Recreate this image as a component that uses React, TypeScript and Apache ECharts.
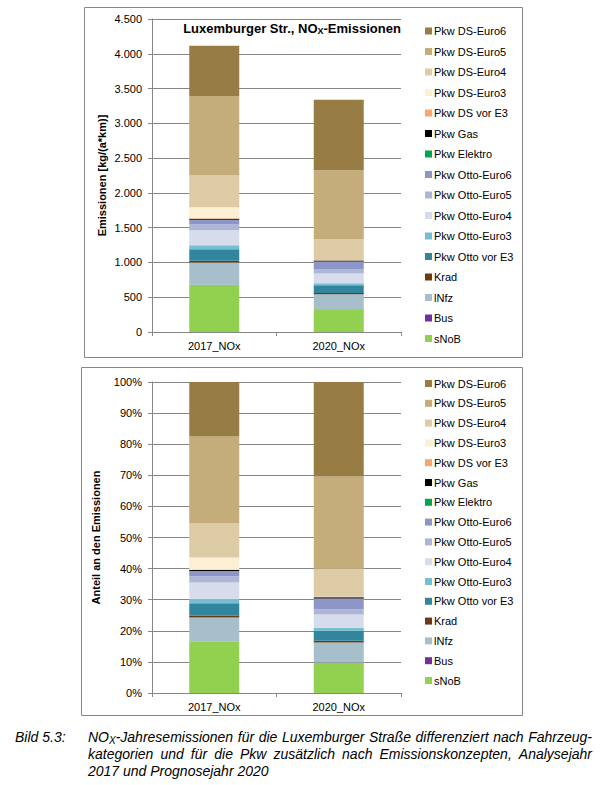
import React, { useEffect, useRef } from "react";
import * as echarts from "echarts";

const categories = ["2017_NOx", "2020_NOx"];

// Emission values [kg/(a*km)] for 2017_NOx, 2020_NOx
const sNoB = [675, 325];
const bus = [3, 2];
const lNfz = [320, 215];
const krad = [25, 20];
const ottoVorE3 = [165, 110];
const ottoEuro3 = [60, 30];
const ottoEuro4 = [215, 140];
const ottoEuro5 = [83, 57];
const ottoEuro6 = [68, 115];
const elektro = [0, 0];
const gas = [14, 15];
const dsVorE3 = [6, 2];
const dsEuro3 = [160, 4];
const dsEuro4 = [455, 300];
const dsEuro5 = [1145, 990];
const dsEuro6 = [720, 1015];

const seriesNames = [
  "sNoB", "Bus", "lNfz", "Krad", "Pkw Otto vor E3", "Pkw Otto-Euro3", "Pkw Otto-Euro4",
  "Pkw Otto-Euro5", "Pkw Otto-Euro6", "Pkw Elektro", "Pkw Gas", "Pkw DS vor E3",
  "Pkw DS-Euro3", "Pkw DS-Euro4", "Pkw DS-Euro5", "Pkw DS-Euro6",
];
const seriesValues = [
  sNoB, bus, lNfz, krad, ottoVorE3, ottoEuro3, ottoEuro4, ottoEuro5, ottoEuro6,
  elektro, gas, dsVorE3, dsEuro3, dsEuro4, dsEuro5, dsEuro6,
];
const seriesColors = [
  "#92D050", "#7030A0", "#A7BFCA", "#6B3A15", "#31869D", "#74C0D2", "#D6DCEC",
  "#AEB6D8", "#8C97C7", "#00A650", "#000000", "#F9A66E",
  "#FDEFD1", "#DDCBA5", "#C4AD7B", "#977D44",
];

const absTicks = [0, 500, 1000, 1500, 2000, 2500, 3000, 3500, 4000, 4500];

const FONT = '"Liberation Sans", Arial, sans-serif';
const CAP_SIZE = 14;

function measure(text: string, size: number, weight = "normal", style = "italic") {
  const c = document.createElement("canvas").getContext("2d")!;
  c.font = `${style} ${weight} ${size}px "Liberation Sans"`;
  return c.measureText(text).width;
}

function fmtThousands(v: number) {
  const s = String(Math.round(v));
  return s.replace(/\B(?=(\d{3})+(?!\d))/g, ".");
}

export default function App() {
  const ref = useRef<HTMLDivElement>(null);

  useEffect(() => {
    if (!ref.current) return;
    const chart = echarts.init(ref.current, undefined, { renderer: "svg" });

    const totals = categories.map((_, i) => seriesValues.reduce((s, arr) => s + arr[i], 0));
    const pct = seriesValues.map((arr) => arr.map((v, i) => (v / totals[i]) * 100));

    const series: any[] = [];
    seriesNames.forEach((name, k) => {
      series.push({
        name, type: "bar", stack: "abs", xAxisIndex: 0, yAxisIndex: 0,
        barWidth: 50, data: seriesValues[k], itemStyle: { color: seriesColors[k] },
      });
    });
    seriesNames.forEach((name, k) => {
      series.push({
        name, type: "bar", stack: "pct", xAxisIndex: 1, yAxisIndex: 1,
        barWidth: 50, data: pct[k], itemStyle: { color: seriesColors[k] },
      });
    });

    const legendData = [...seriesNames].reverse();
    const legendBase = {
      orient: "vertical", left: 420, itemWidth: 7, itemHeight: 7, icon: "rect",
      data: legendData, selectedMode: false,
      textStyle: { fontFamily: FONT, fontSize: 11, color: "#000", lineHeight: 13, padding: [0, 0, 0, -3] },
    };

    const axisLineStyle = { color: "#868686", width: 1 };
    const xAxisBase = {
      type: "category", data: categories,
      axisLine: { lineStyle: axisLineStyle },
      axisTick: { show: true, length: 4, lineStyle: axisLineStyle },
      axisLabel: { fontFamily: FONT, fontSize: 11, color: "#000", margin: 8 },
    };

    // Caption (justified by word placement)
    const left = 88, right = 592;
    const capFont = `italic normal ${CAP_SIZE}px ${FONT}`;
    const caption: any[] = [];
    const y1 = 737, y2 = 754, y3 = 771;
    caption.push({
      type: "text", x: 15, y: y1,
      style: { text: "Bild 5.3:", font: capFont, fill: "#000", align: "left", verticalAlign: "middle" },
    });
    const firstW = measure("NO", CAP_SIZE) + measure("X", 10) + measure("-Jahresemissionen", CAP_SIZE);
    const line1 = ["__first__", "für", "die", "Luxemburger", "Straße", "differenziert", "nach", "Fahrzeug-"];
    const line2 = ["kategorien", "und", "für", "die", "Pkw", "zusätzlich", "nach", "Emissionskonzepten,", "Analysejahr"];
    const placeLine = (words: string[], y: number) => {
      const widths = words.map((w) => (w === "__first__" ? firstW : measure(w, CAP_SIZE)));
      const sum = widths.reduce((a, b) => a + b, 0);
      const gap = (right - left - sum) / (words.length - 1);
      let x = left;
      words.forEach((w, i) => {
        if (w === "__first__") {
          caption.push({
            type: "text", x, y,
            style: {
              text: "{a|NO}{b|X}{a|-Jahresemissionen}", align: "left", verticalAlign: "middle",
              rich: {
                a: { fontFamily: FONT, fontSize: CAP_SIZE, fontStyle: "italic", lineHeight: 16, fill: "#000" },
                b: { fontFamily: FONT, fontSize: 10, fontStyle: "italic", lineHeight: 10, fill: "#000", verticalAlign: "bottom" },
              },
            },
          });
        } else {
          caption.push({
            type: "text", x, y,
            style: { text: w, font: capFont, fill: "#000", align: "left", verticalAlign: "middle" },
          });
        }
        x += widths[i] + gap;
      });
    };
    placeLine(line1, y1);
    placeLine(line2, y2);
    caption.push({
      type: "text", x: left, y: y3,
      style: { text: "2017 und Prognosejahr 2020", font: capFont, fill: "#000", align: "left", verticalAlign: "middle" },
    });

    chart.setOption({
      animation: false,
      backgroundColor: "#fff",
      textStyle: { fontFamily: FONT },
      grid: [
        { left: 152, top: 19, width: 249, height: 313 },
        { left: 152, top: 382, width: 249, height: 311 },
      ],
      xAxis: [
        { ...xAxisBase, gridIndex: 0 },
        { ...xAxisBase, gridIndex: 1 },
      ],
      yAxis: [
        {
          type: "value", gridIndex: 0, min: 0, max: absTicks[absTicks.length - 1], interval: 500,
          name: "Emissionen [kg/(a*km)]", nameLocation: "middle", nameGap: 45,
          nameTextStyle: { fontFamily: FONT, fontSize: 11, fontWeight: "bold", color: "#000" },
          axisLine: { show: true, lineStyle: axisLineStyle },
          axisTick: { show: true, length: 4, lineStyle: axisLineStyle },
          axisLabel: { fontFamily: FONT, fontSize: 11, color: "#000", margin: 10, formatter: (v: number) => fmtThousands(v) },
          splitLine: { show: true, lineStyle: { color: "#868686", width: 1 } },
        },
        {
          type: "value", gridIndex: 1, min: 0, max: 100, interval: 10,
          name: "Anteil an den Emissionen", nameLocation: "middle", nameGap: 51,
          nameTextStyle: { fontFamily: FONT, fontSize: 11, fontWeight: "bold", color: "#000" },
          axisLine: { show: true, lineStyle: axisLineStyle },
          axisTick: { show: true, length: 4, lineStyle: axisLineStyle },
          axisLabel: { fontFamily: FONT, fontSize: 11, color: "#000", margin: 10, formatter: (v: number) => `${v}%` },
          splitLine: { show: true, lineStyle: { color: "#868686", width: 1 } },
        },
      ],
      legend: [
        { ...legendBase, top: 19.5, itemGap: 7.5 },
        { ...legendBase, top: 372, itemGap: 6.8 },
      ],
      graphic: [
        {
          type: "rect", shape: { x: 84.5, y: 7.5, width: 438, height: 350 },
          style: { fill: "none", stroke: "#868686", lineWidth: 1 }, silent: true, z: -1,
        },
        {
          type: "rect", shape: { x: 81.5, y: 367.5, width: 441, height: 348 },
          style: { fill: "none", stroke: "#868686", lineWidth: 1 }, silent: true, z: -1,
        },
        {
          type: "text", x: 292, y: 28, z: 10,
          style: {
            text: "{a|Luxemburger Str., NO}{b|X}{a|-Emissionen}", align: "center", verticalAlign: "middle",
            rich: {
              a: { fontFamily: FONT, fontSize: 13, fontWeight: "bold", lineHeight: 15, fill: "#000" },
              b: { fontFamily: FONT, fontSize: 9, fontWeight: "bold", lineHeight: 9, fill: "#000", verticalAlign: "bottom" },
            },
          },
        },
        ...caption,
      ],
      series,
    });

    return () => chart.dispose();
  }, []);

  return (
    <div
      ref={ref}
      style={{ position: "absolute", left: 0, top: 0, width: 609, height: 785, background: "#fff" }}
    />
  );
}
